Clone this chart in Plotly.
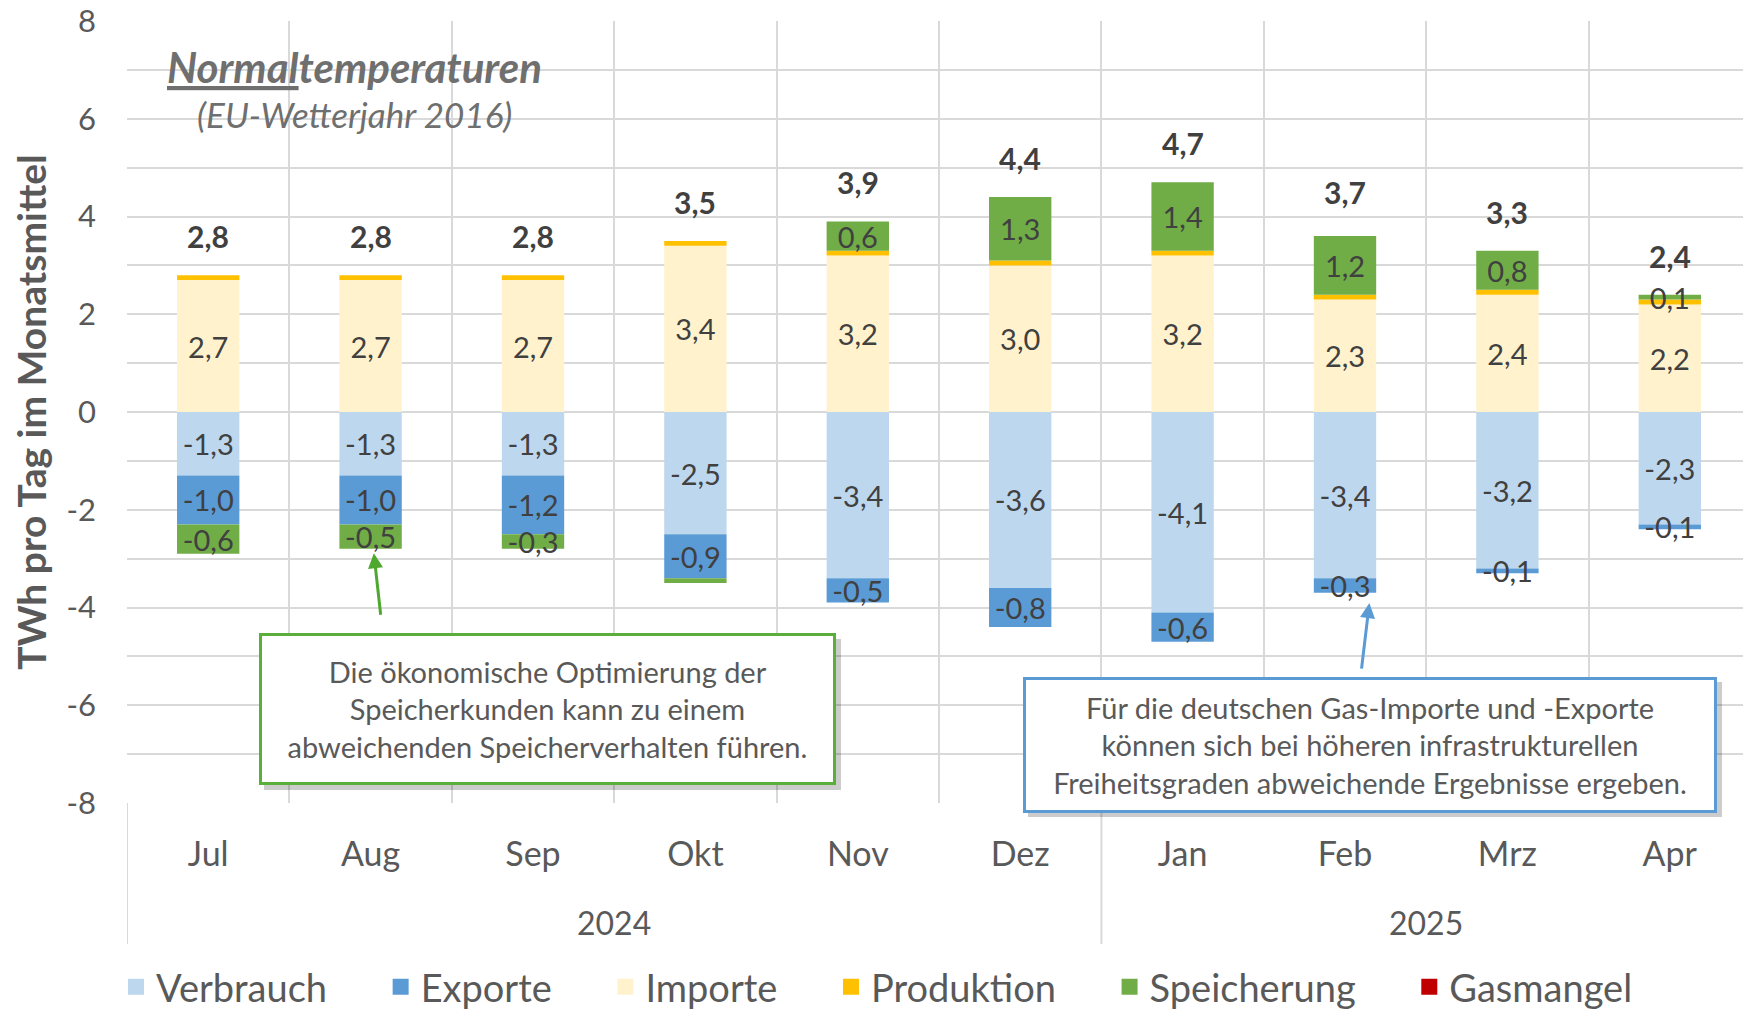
import plotly.graph_objects as go

months = ["Jul", "Aug", "Sep", "Okt", "Nov", "Dez", "Jan", "Feb", "Mrz", "Apr"]
years = ["2024", "2025"]
year_centers = [2.5, 7.5]
year_dividers = [-0.5, 5.5]

verbrauch = [-1.3, -1.3, -1.3, -2.5, -3.4, -3.6, -4.1, -3.4, -3.2, -2.3]
exporte = [-1.0, -1.0, -1.2, -0.9, -0.5, -0.8, -0.6, -0.3, -0.1, -0.1]
importe = [2.7, 2.7, 2.7, 3.4, 3.2, 3.0, 3.2, 2.3, 2.4, 2.2]
produktion = [0.1, 0.1, 0.1, 0.1, 0.1, 0.1, 0.1, 0.1, 0.1, 0.1]
speicherung = [-0.6, -0.5, -0.3, -0.1, 0.6, 1.3, 1.4, 1.2, 0.8, 0.1]
speicher_label_shown = [True, True, True, False, True, True, True, True, True, True]
gasmangel = [0, 0, 0, 0, 0, 0, 0, 0, 0, 0]
totals = [2.8, 2.8, 2.8, 3.5, 3.9, 4.4, 4.7, 3.7, 3.3, 2.4]

y_tickvals = [-8, -6, -4, -2, 0, 2, 4, 6, 8]

def fmt(v):
    return f"{v:.1f}".replace(".", ",")

FONT = "Lato"
LABEL_COLOR = "#404040"
AXIS_COLOR = "#595959"
GRID = "#D9D9D9"
PAD = "\u00a0" * 5

# the page body has an 8px margin; the figure is sized to fit the window
BODY = 8
W, H = 1751 - BODY, 1013 - BODY
PLOT_L, PLOT_R, PLOT_T, PLOT_B = 127, 1751, 21, 803  # plot area in window pixels

fig = go.Figure()

def add_bar(name, vals, color, texts):
    fig.add_trace(go.Bar(
        name=name, x=months, y=vals, marker=dict(color=color, line=dict(width=0)),
        text=texts, textposition="inside", insidetextanchor="middle",
        textfont=dict(family=FONT, size=29, color=LABEL_COLOR),
        textangle=0, hoverinfo="skip", showlegend=False,
    ))
    # legend entry with a larger square symbol
    fig.add_trace(go.Scatter(
        name=name + PAD, x=[None], y=[None], mode="markers",
        marker=dict(symbol="square", size=20, color=color), hoverinfo="skip",
    ))

add_bar("Verbrauch", verbrauch, "#BDD7EE", [fmt(v) for v in verbrauch])
add_bar("Exporte", exporte, "#5B9BD5", [fmt(v) for v in exporte])
add_bar("Importe", importe, "#FFF2CC", [fmt(v) for v in importe])
add_bar("Produktion", produktion, "#FFC000", ["" for v in produktion])
add_bar("Speicherung", speicherung, "#70AD47",
        [fmt(v) if s else "" for v, s in zip(speicherung, speicher_label_shown)])
add_bar("Gasmangel", gasmangel, "#C00000", ["" for v in gasmangel])

def px_x(px):
    return (px - PLOT_L) / (PLOT_R - PLOT_L)

def px_y(py):
    return (PLOT_B - py) / (PLOT_B - PLOT_T)

annotations = []
for i, t in enumerate(totals):
    annotations.append(dict(
        x=i, y=t, xref="x", yref="y", text=f"<b>{fmt(t)}</b>", showarrow=False,
        xanchor="center", yanchor="bottom", yshift=19,
        font=dict(family=FONT, size=30, color=LABEL_COLOR),
    ))

for yr, c in zip(years, year_centers):
    annotations.append(dict(
        x=c, y=px_y(922), xref="x", yref="paper", text=yr, showarrow=False,
        xanchor="center", yanchor="middle", font=dict(family=FONT, size=32, color=AXIS_COLOR),
    ))

# title
annotations.append(dict(
    x=px_x(354), y=px_y(67), xref="paper", yref="paper", showarrow=False,
    xanchor="center", yanchor="middle",
    text="<b><i><u>Normal</u>temperaturen</i></b>",
    font=dict(family=FONT, size=42, color="#6F6F6F"),
))
annotations.append(dict(
    x=px_x(354), y=px_y(114), xref="paper", yref="paper", showarrow=False,
    xanchor="center", yanchor="middle",
    text="<i>(EU-Wetterjahr 2016)</i>",
    font=dict(family=FONT, size=35, color="#6F6F6F"),
))

# arrows
annotations.append(dict(
    x=1.02, y=-2.89, xref="x", yref="y", text="", showarrow=True,
    ax=7, ay=63, arrowcolor="#4EA72E", arrowwidth=3, arrowhead=2, arrowsize=1,
))
annotations.append(dict(
    x=7.15, y=-3.91, xref="x", yref="y", text="", showarrow=True,
    ax=-8, ay=67, arrowcolor="#5B9BD5", arrowwidth=3, arrowhead=2, arrowsize=1,
))

# text boxes
annotations.append(dict(
    x=px_x(547), y=px_y(709), xref="paper", yref="paper", showarrow=False,
    xanchor="center", yanchor="middle",
    text="Die ökonomische Optimierung der<br>Speicherkunden kann zu einem<br>abweichenden Speicherverhalten führen.",
    font=dict(family=FONT, size=29, color="#595959"),
    width=565, height=140, borderpad=3, borderwidth=3, bordercolor="#5AAE3A",
    bgcolor="white", align="center",
))
annotations.append(dict(
    x=px_x(1370), y=px_y(744.5), xref="paper", yref="paper", showarrow=False,
    xanchor="center", yanchor="middle",
    text="Für die deutschen Gas-Importe und -Exporte<br>können sich bei höheren infrastrukturellen<br>Freiheitsgraden abweichende Ergebnisse ergeben.",
    font=dict(family=FONT, size=29, color="#595959"),
    width=682, height=124, borderpad=3, borderwidth=3, bordercolor="#5B9BD5",
    bgcolor="white", align="center",
))

shapes = []
# white box behind title
shapes.append(dict(type="rect", xref="paper", yref="paper",
                   x0=px_x(143), x1=px_x(566), y0=px_y(147), y1=px_y(30),
                   fillcolor="white", line=dict(width=0), layer="between"))
# shadows
for (x0, x1, y0, y1) in [(259, 836, 634, 785), (1023, 1717, 677, 812)]:
    shapes.append(dict(type="rect", xref="paper", yref="paper",
                       x0=px_x(x0 + 5), x1=px_x(x1 + 5), y0=px_y(y1 + 5), y1=px_y(y0 + 5),
                       fillcolor="rgba(0,0,0,0.2)", line=dict(width=0), layer="above"))
# year dividers
for d in year_dividers:
    shapes.append(dict(type="line", xref="x", yref="paper", x0=d, x1=d, y0=0, y1=px_y(944),
                       line=dict(color=GRID, width=2), layer="below"))

fig.update_layout(
    width=W, height=H, autosize=False,
    margin=dict(l=PLOT_L - BODY, r=1751 - PLOT_R, t=PLOT_T - BODY, b=1013 - PLOT_B,
                pad=0, autoexpand=False),
    paper_bgcolor="white", plot_bgcolor="white",
    barmode="relative", bargap=0.616,
    font=dict(family=FONT, color=AXIS_COLOR),
    uniformtext=dict(minsize=29, mode="show"),
    showlegend=True,
    legend=dict(orientation="h", x=px_x(116), xanchor="left", y=px_y(987), yanchor="middle",
                font=dict(family=FONT, size=38, color=AXIS_COLOR),
                itemwidth=30, itemsizing="trace", traceorder="normal", bgcolor="rgba(0,0,0,0)"),
    annotations=annotations,
    shapes=shapes,
)

fig.update_xaxes(
    type="category", tickson="boundaries", showgrid=True, gridcolor=GRID, gridwidth=2,
    ticks="", tickfont=dict(family=FONT, size=34, color=AXIS_COLOR),
    ticklabelstandoff=28, showline=False, zeroline=False, range=[-0.5, 9.5],
    automargin=False,
)
fig.update_yaxes(
    range=[-8, 8], tickmode="array", tickvals=y_tickvals,
    ticktext=[str(v) for v in y_tickvals],
    showgrid=True, gridcolor=GRID, gridwidth=2, zeroline=True, zerolinecolor=GRID, zerolinewidth=2,
    minor=dict(tickmode="linear", tick0=0, dtick=1, showgrid=True, gridcolor=GRID, gridwidth=2),
    ticks="", tickfont=dict(family=FONT, size=31, color=AXIS_COLOR), ticklabelstandoff=30,
    ticklabeloverflow="allow",
    title=dict(text="<b>TWh pro Tag im Monatsmittel</b>", font=dict(family=FONT, size=39, color=AXIS_COLOR),
               standoff=12),
    showline=False, automargin=False,
)

fig.write_html("out.html")
